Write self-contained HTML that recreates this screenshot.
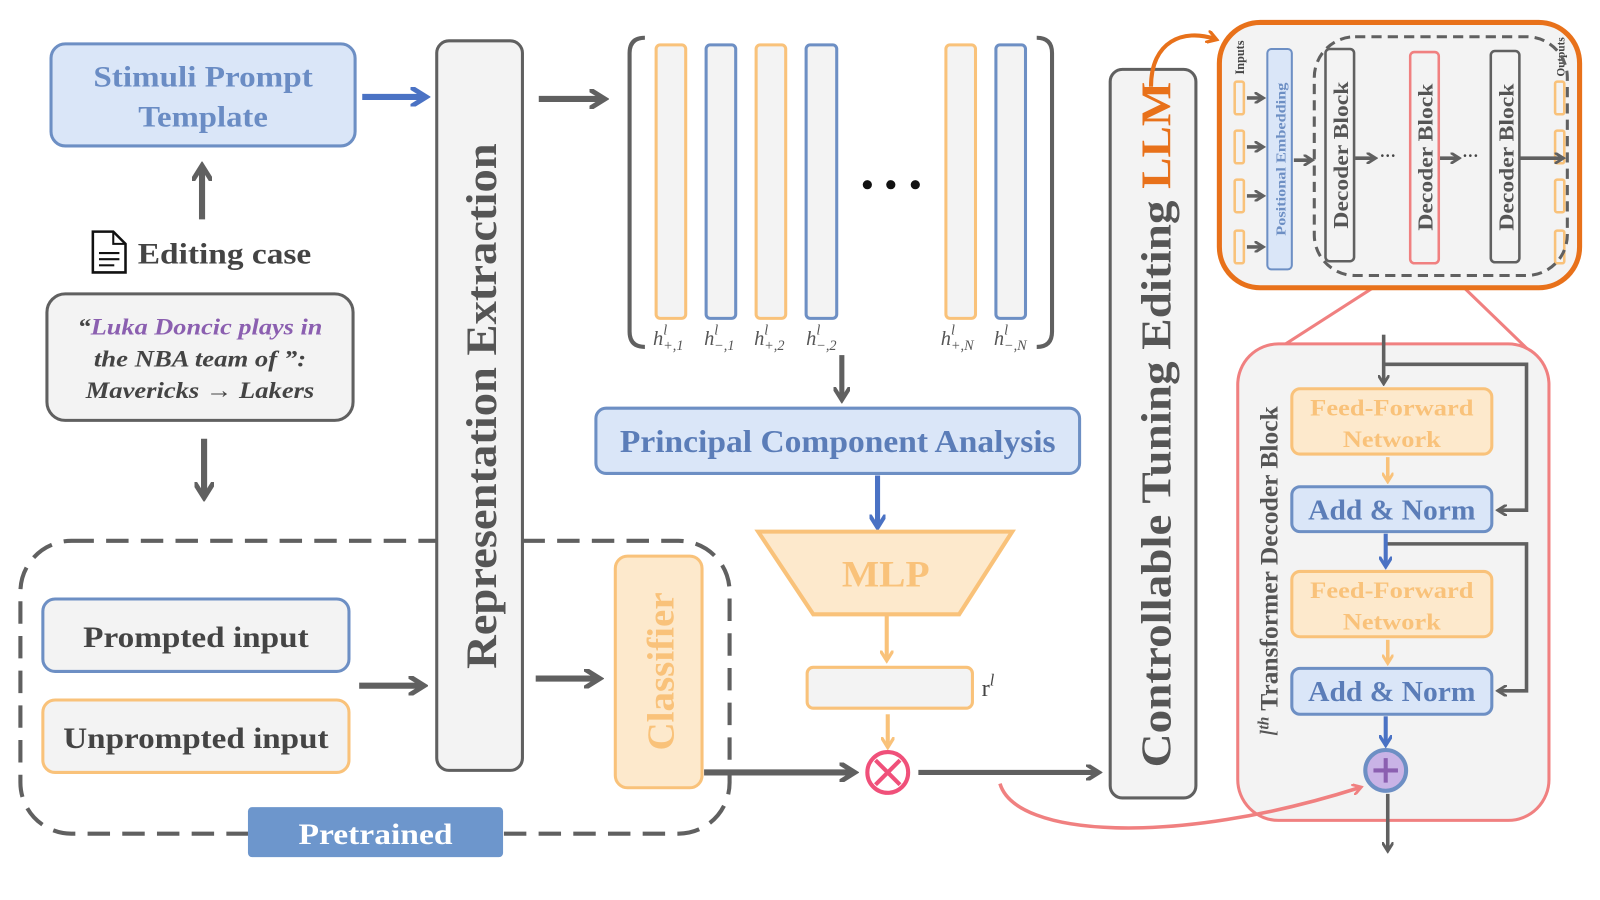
<!DOCTYPE html>
<html><head><meta charset="utf-8"><style>
body{margin:0;background:#fff}
svg{display:block}
text{font-family:"Liberation Serif",serif;font-weight:bold}
</style></head><body>
<svg width="1600" height="900" viewBox="0 0 1600 900" xmlns="http://www.w3.org/2000/svg">
<defs>
<marker id="ag" viewBox="0 0 10 10" refX="6" refY="5" markerWidth="3.2" markerHeight="3.2" orient="auto"><path d="M0,0 L8,5 L0,10" fill="none" stroke="#606060" stroke-width="2.5"/></marker>
<marker id="ab" viewBox="0 0 10 10" refX="6" refY="5" markerWidth="3.2" markerHeight="3.2" orient="auto"><path d="M0,0 L8,5 L0,10" fill="none" stroke="#4a72c4" stroke-width="2.5"/></marker>
<marker id="ao" viewBox="0 0 10 10" refX="6" refY="5" markerWidth="3.2" markerHeight="3.2" orient="auto"><path d="M0,0 L8,5 L0,10" fill="none" stroke="#f9c27a" stroke-width="2.5"/></marker>
<marker id="ap" viewBox="0 0 10 10" refX="6" refY="5" markerWidth="3.2" markerHeight="3.2" orient="auto"><path d="M0,0 L8,5 L0,10" fill="none" stroke="#f08080" stroke-width="2.5"/></marker>
<marker id="ar" viewBox="0 0 10 10" refX="6" refY="5" markerWidth="3.2" markerHeight="3.2" orient="auto"><path d="M0,0 L8,5 L0,10" fill="none" stroke="#e8711a" stroke-width="2.5"/></marker>
</defs>
<g transform="scale(1.0204)">
<rect x="50" y="43" width="298" height="100" rx="14" fill="#dae6f8" stroke="#6d8fc4" stroke-width="3"/>
<text x="199" y="85" font-size="29" fill="#6a8cc4" text-anchor="middle" textLength="215" lengthAdjust="spacingAndGlyphs">Stimuli Prompt</text>
<text x="199" y="124" font-size="29" fill="#6a8cc4" text-anchor="middle" textLength="127" lengthAdjust="spacingAndGlyphs">Template</text>
<line x1="355" y1="95" x2="414" y2="95" stroke="#4a72c4" stroke-width="6" marker-end="url(#ab)"/>
<line x1="198" y1="215" x2="198" y2="166" stroke="#606060" stroke-width="6" marker-end="url(#ag)"/>
<path d="M91,227 h20 l12,12 v28 h-32 z" fill="#fff" stroke="#111" stroke-width="2.5"/>
<path d="M111,227 v12 h12" fill="none" stroke="#111" stroke-width="2"/>
<line x1="97" y1="248" x2="117" y2="248" stroke="#111" stroke-width="2"/>
<line x1="97" y1="254" x2="117" y2="254" stroke="#111" stroke-width="2"/>
<line x1="97" y1="260" x2="112" y2="260" stroke="#111" stroke-width="2"/>
<text x="135" y="258" font-size="29" fill="#444" textLength="170" lengthAdjust="spacingAndGlyphs">Editing case</text>
<rect x="46" y="288" width="300" height="124" rx="18" fill="#f3f3f3" stroke="#606060" stroke-width="3"/>
<text x="196" y="328" font-size="23" font-style="italic" text-anchor="middle" textLength="240" lengthAdjust="spacingAndGlyphs"><tspan fill="#444">“</tspan><tspan fill="#8b5fb0">Luka Doncic plays in</tspan></text>
<text x="196" y="359" font-size="23" font-style="italic" fill="#444" text-anchor="middle" textLength="208" lengthAdjust="spacingAndGlyphs">the NBA team of ”:</text>
<text x="196" y="390" font-size="23" font-style="italic" fill="#444" text-anchor="middle" textLength="224" lengthAdjust="spacingAndGlyphs">Mavericks → Lakers</text>
<line x1="200" y1="430" x2="200" y2="484" stroke="#606060" stroke-width="6" marker-end="url(#ag)"/>

<rect x="20" y="530" width="695" height="287" rx="50" fill="none" stroke="#606060" stroke-width="4" stroke-dasharray="22,12"/>
<rect x="42" y="587" width="300" height="71" rx="12" fill="#f3f3f3" stroke="#6d8fc4" stroke-width="3"/>
<text x="192" y="634" font-size="29" fill="#444" text-anchor="middle" textLength="221" lengthAdjust="spacingAndGlyphs">Prompted input</text>
<rect x="42" y="686" width="300" height="71" rx="12" fill="#f3f3f3" stroke="#f9c27a" stroke-width="3"/>
<text x="192" y="733" font-size="29" fill="#444" text-anchor="middle" textLength="260" lengthAdjust="spacingAndGlyphs">Unprompted input</text>
<rect x="243" y="791" width="250" height="49" rx="4" fill="#6d96cc"/>
<text x="368" y="827" font-size="29" fill="#fff" text-anchor="middle" textLength="151" lengthAdjust="spacingAndGlyphs">Pretrained</text>
<line x1="352" y1="672" x2="412" y2="672" stroke="#606060" stroke-width="6" marker-end="url(#ag)"/>

<rect x="428" y="40" width="84" height="715" rx="12" fill="#f3f3f3" stroke="#606060" stroke-width="3"/>
<text transform="translate(486,398) rotate(-90)" font-size="42" fill="#555" text-anchor="middle" textLength="515" lengthAdjust="spacingAndGlyphs">Representation Extraction</text>
<line x1="528" y1="97" x2="589" y2="97" stroke="#606060" stroke-width="6" marker-end="url(#ag)"/>
<line x1="525" y1="665" x2="584" y2="665" stroke="#606060" stroke-width="6" marker-end="url(#ag)"/>

<path d="M632,37 Q617,37 617,52 V325 Q617,340 632,340" fill="none" stroke="#606060" stroke-width="4"/>
<path d="M1016,37 Q1031,37 1031,52 V325 Q1031,340 1016,340" fill="none" stroke="#606060" stroke-width="4"/>
<g stroke-width="3" fill="#f3f3f3">
<rect x="643" y="44" width="29" height="268" rx="4" stroke="#f9c27a"/>
<rect x="692" y="44" width="29" height="268" rx="4" stroke="#6d8fc4"/>
<rect x="741" y="44" width="29" height="268" rx="4" stroke="#f9c27a"/>
<rect x="790" y="44" width="30" height="268" rx="4" stroke="#6d8fc4"/>
<rect x="927" y="44" width="29" height="268" rx="4" stroke="#f9c27a"/>
<rect x="976" y="44" width="29" height="268" rx="4" stroke="#6d8fc4"/>
</g>
<circle cx="850" cy="181" r="4.5" fill="#111"/><circle cx="873" cy="181" r="4.5" fill="#111"/><circle cx="897" cy="181" r="4.5" fill="#111"/>
<g font-size="20" font-style="italic" fill="#555">
<text x="640" y="338" style="font-weight:normal">h<tspan font-size="14" dy="-10">l</tspan><tspan font-size="14" dx="-4" dy="15">+,1</tspan></text>
<text x="690" y="338" style="font-weight:normal">h<tspan font-size="14" dy="-10">l</tspan><tspan font-size="14" dx="-4" dy="15">−,1</tspan></text>
<text x="739" y="338" style="font-weight:normal">h<tspan font-size="14" dy="-10">l</tspan><tspan font-size="14" dx="-4" dy="15">+,2</tspan></text>
<text x="790" y="338" style="font-weight:normal">h<tspan font-size="14" dy="-10">l</tspan><tspan font-size="14" dx="-4" dy="15">−,2</tspan></text>
<text x="922" y="338" style="font-weight:normal">h<tspan font-size="14" dy="-10">l</tspan><tspan font-size="14" dx="-4" dy="15">+,N</tspan></text>
<text x="974" y="338" style="font-weight:normal">h<tspan font-size="14" dy="-10">l</tspan><tspan font-size="14" dx="-4" dy="15">−,N</tspan></text>
</g>
<line x1="825" y1="348" x2="825" y2="389" stroke="#606060" stroke-width="5" marker-end="url(#ag)"/>

<rect x="584" y="400" width="474" height="64" rx="10" fill="#dae6f8" stroke="#6d8fc4" stroke-width="3"/>
<text x="821" y="443" font-size="31" fill="#5b7db8" text-anchor="middle" textLength="427" lengthAdjust="spacingAndGlyphs">Principal Component Analysis</text>
<line x1="860" y1="466" x2="860" y2="514" stroke="#4a72c4" stroke-width="5" marker-end="url(#ab)"/>
<path d="M743,521 H992 L940,602 H797 Z" fill="#fde9cc" stroke="#f9c27a" stroke-width="4"/>
<text x="868" y="575" font-size="36" fill="#f9c27a" text-anchor="middle" textLength="86" lengthAdjust="spacingAndGlyphs">MLP</text>
<line x1="869" y1="602" x2="869" y2="645" stroke="#f9c27a" stroke-width="4" marker-end="url(#ao)"/>
<rect x="791" y="654" width="162" height="40" rx="6" fill="#f3f3f3" stroke="#f9c27a" stroke-width="3"/>
<text x="962" y="682" font-size="24" fill="#444" style="font-weight:normal">r<tspan font-size="16" dy="-10" font-style="italic">l</tspan></text>
<line x1="870" y1="700" x2="870" y2="730" stroke="#f9c27a" stroke-width="4" marker-end="url(#ao)"/>
<circle cx="870" cy="757" r="20" fill="#fff" stroke="#f0507a" stroke-width="4"/>
<path d="M858,745 L882,769 M882,745 L858,769" stroke="#f0507a" stroke-width="4"/>

<rect x="603" y="545" width="85" height="227" rx="12" fill="#fde9cc" stroke="#f9c27a" stroke-width="3"/>
<text transform="translate(660,658) rotate(-90)" font-size="37" fill="#f9c27a" text-anchor="middle" textLength="155" lengthAdjust="spacingAndGlyphs">Classifier</text>
<line x1="690" y1="757" x2="834" y2="757" stroke="#606060" stroke-width="6" marker-end="url(#ag)"/>
<line x1="900" y1="757" x2="1074" y2="757" stroke="#606060" stroke-width="5" marker-end="url(#ag)"/>

<rect x="1088" y="68" width="84" height="714" rx="12" fill="#f3f3f3" stroke="#606060" stroke-width="3"/>
<text transform="translate(1147,416) rotate(-90)" font-size="41" fill="#555" text-anchor="middle" textLength="672" lengthAdjust="spacingAndGlyphs">Controllable Tuning Editing <tspan fill="#e8711a">LLM</tspan></text>
<path d="M1128,85 C1128,40 1160,28 1190,38" fill="none" stroke="#e8711a" stroke-width="4" marker-end="url(#ar)"/>

<line x1="1383" y1="258" x2="1232" y2="355" stroke="#f08080" stroke-width="3"/>
<line x1="1410" y1="258" x2="1500" y2="345" stroke="#f08080" stroke-width="3"/>
<rect x="1195" y="22" width="353" height="260" rx="40" fill="#f3f3f3" stroke="#e8711a" stroke-width="5"/>
<text transform="translate(1219,73) rotate(-90)" font-size="12" fill="#444">Inputs</text>
<g fill="none" stroke="#f9c27a" stroke-width="2.5">
<rect x="1210" y="80" width="9" height="32" rx="2"/><rect x="1210" y="128" width="9" height="32" rx="2"/><rect x="1210" y="176" width="9" height="32" rx="2"/><rect x="1210" y="226" width="9" height="32" rx="2"/>
<rect x="1524" y="80" width="9" height="32" rx="2"/><rect x="1524" y="128" width="9" height="32" rx="2"/><rect x="1524" y="176" width="9" height="32" rx="2"/><rect x="1524" y="226" width="9" height="32" rx="2"/>
</g>
<text transform="translate(1533,75) rotate(-90)" font-size="11" fill="#444">Outputs</text>
<g stroke="#606060" stroke-width="3.5">
<line x1="1222" y1="96" x2="1236" y2="96" marker-end="url(#ag)"/><line x1="1222" y1="144" x2="1236" y2="144" marker-end="url(#ag)"/><line x1="1222" y1="192" x2="1236" y2="192" marker-end="url(#ag)"/><line x1="1222" y1="242" x2="1236" y2="242" marker-end="url(#ag)"/>
<line x1="1268" y1="157" x2="1284" y2="157" marker-end="url(#ag)"/>
<line x1="1328" y1="155" x2="1346" y2="155" marker-end="url(#ag)"/>
<line x1="1410" y1="155" x2="1428" y2="155" marker-end="url(#ag)"/>
<line x1="1490" y1="155" x2="1530" y2="155" marker-end="url(#ag)"/>
</g>
<rect x="1242" y="48" width="24" height="216" rx="4" fill="#dae6f8" stroke="#6d8fc4" stroke-width="2"/>
<text transform="translate(1260,156) rotate(-90)" font-size="13" fill="#6d8fc4" text-anchor="middle" textLength="150" lengthAdjust="spacingAndGlyphs">Positional Embedding</text>
<rect x="1288" y="36" width="248" height="234" rx="40" fill="none" stroke="#606060" stroke-width="3" stroke-dasharray="10,6"/>
<rect x="1299" y="48" width="28" height="208" rx="4" fill="#f3f3f3" stroke="#606060" stroke-width="2.5"/>
<text transform="translate(1321,152) rotate(-90)" font-size="21" fill="#555" text-anchor="middle" textLength="144" lengthAdjust="spacingAndGlyphs">Decoder Block</text>
<rect x="1382" y="51" width="28" height="207" rx="4" fill="#f3f3f3" stroke="#f08080" stroke-width="2.5"/>
<text transform="translate(1404,154) rotate(-90)" font-size="21" fill="#555" text-anchor="middle" textLength="144" lengthAdjust="spacingAndGlyphs">Decoder Block</text>
<rect x="1461" y="50" width="28" height="207" rx="4" fill="#f3f3f3" stroke="#606060" stroke-width="2.5"/>
<text transform="translate(1483,154) rotate(-90)" font-size="21" fill="#555" text-anchor="middle" textLength="144" lengthAdjust="spacingAndGlyphs">Decoder Block</text>
<text x="1352" y="158" font-size="16" fill="#444">···</text><text x="1433" y="158" font-size="16" fill="#444">···</text>

<rect x="1213" y="337" width="305" height="467" rx="40" fill="#f3f3f3" stroke="#f08080" stroke-width="3"/>
<text transform="translate(1252,560) rotate(-90)" font-size="25" fill="#555" text-anchor="middle"><tspan font-style="italic" style="font-weight:normal">l</tspan><tspan font-size="15" dy="-9" font-style="italic">th</tspan><tspan dy="9"> Transformer Decoder Block</tspan></text>
<g fill="none" stroke="#606060" stroke-width="3.5">
<line x1="1356" y1="328" x2="1356" y2="374" marker-end="url(#ag)"/>
<path d="M1356,357 H1496 V500 H1470" marker-end="url(#ag)"/>
<path d="M1358,533 H1496 V677 H1470" marker-end="url(#ag)"/>
<line x1="1360" y1="778" x2="1360" y2="832" marker-end="url(#ag)"/>
</g>
<rect x="1266" y="381" width="196" height="64" rx="8" fill="#fde9cc" stroke="#f9c27a" stroke-width="3"/>
<text x="1364" y="407" font-size="23" fill="#f9c27a" text-anchor="middle" textLength="160" lengthAdjust="spacingAndGlyphs">Feed-Forward</text>
<text x="1364" y="438" font-size="23" fill="#f9c27a" text-anchor="middle" textLength="96" lengthAdjust="spacingAndGlyphs">Network</text>
<line x1="1360" y1="448" x2="1360" y2="470" stroke="#f9c27a" stroke-width="3.5" marker-end="url(#ao)"/>
<rect x="1266" y="477" width="196" height="44" rx="8" fill="#dae6f8" stroke="#6d8fc4" stroke-width="3"/>
<text x="1364" y="509" font-size="28" fill="#5b7db8" text-anchor="middle" textLength="164" lengthAdjust="spacingAndGlyphs">Add &amp; Norm</text>
<line x1="1358" y1="523" x2="1358" y2="553" stroke="#4a72c4" stroke-width="4" marker-end="url(#ab)"/>
<rect x="1266" y="560" width="196" height="64" rx="8" fill="#fde9cc" stroke="#f9c27a" stroke-width="3"/>
<text x="1364" y="586" font-size="23" fill="#f9c27a" text-anchor="middle" textLength="160" lengthAdjust="spacingAndGlyphs">Feed-Forward</text>
<text x="1364" y="617" font-size="23" fill="#f9c27a" text-anchor="middle" textLength="96" lengthAdjust="spacingAndGlyphs">Network</text>
<line x1="1360" y1="627" x2="1360" y2="648" stroke="#f9c27a" stroke-width="3.5" marker-end="url(#ao)"/>
<rect x="1266" y="655" width="196" height="45" rx="8" fill="#dae6f8" stroke="#6d8fc4" stroke-width="3"/>
<text x="1364" y="687" font-size="28" fill="#5b7db8" text-anchor="middle" textLength="164" lengthAdjust="spacingAndGlyphs">Add &amp; Norm</text>
<line x1="1358" y1="702" x2="1358" y2="728" stroke="#4a72c4" stroke-width="4" marker-end="url(#ab)"/>
<circle cx="1358" cy="755" r="20" fill="#c9b3e6" stroke="#6d8fc4" stroke-width="4"/>
<path d="M1346,755 H1370 M1358,743 V767" stroke="#8b5fb0" stroke-width="4"/>
<path d="M980,768 C995,820 1150,830 1332,772" fill="none" stroke="#f08080" stroke-width="3.5" marker-end="url(#ap)"/>
</g>
</svg>
</body></html>
